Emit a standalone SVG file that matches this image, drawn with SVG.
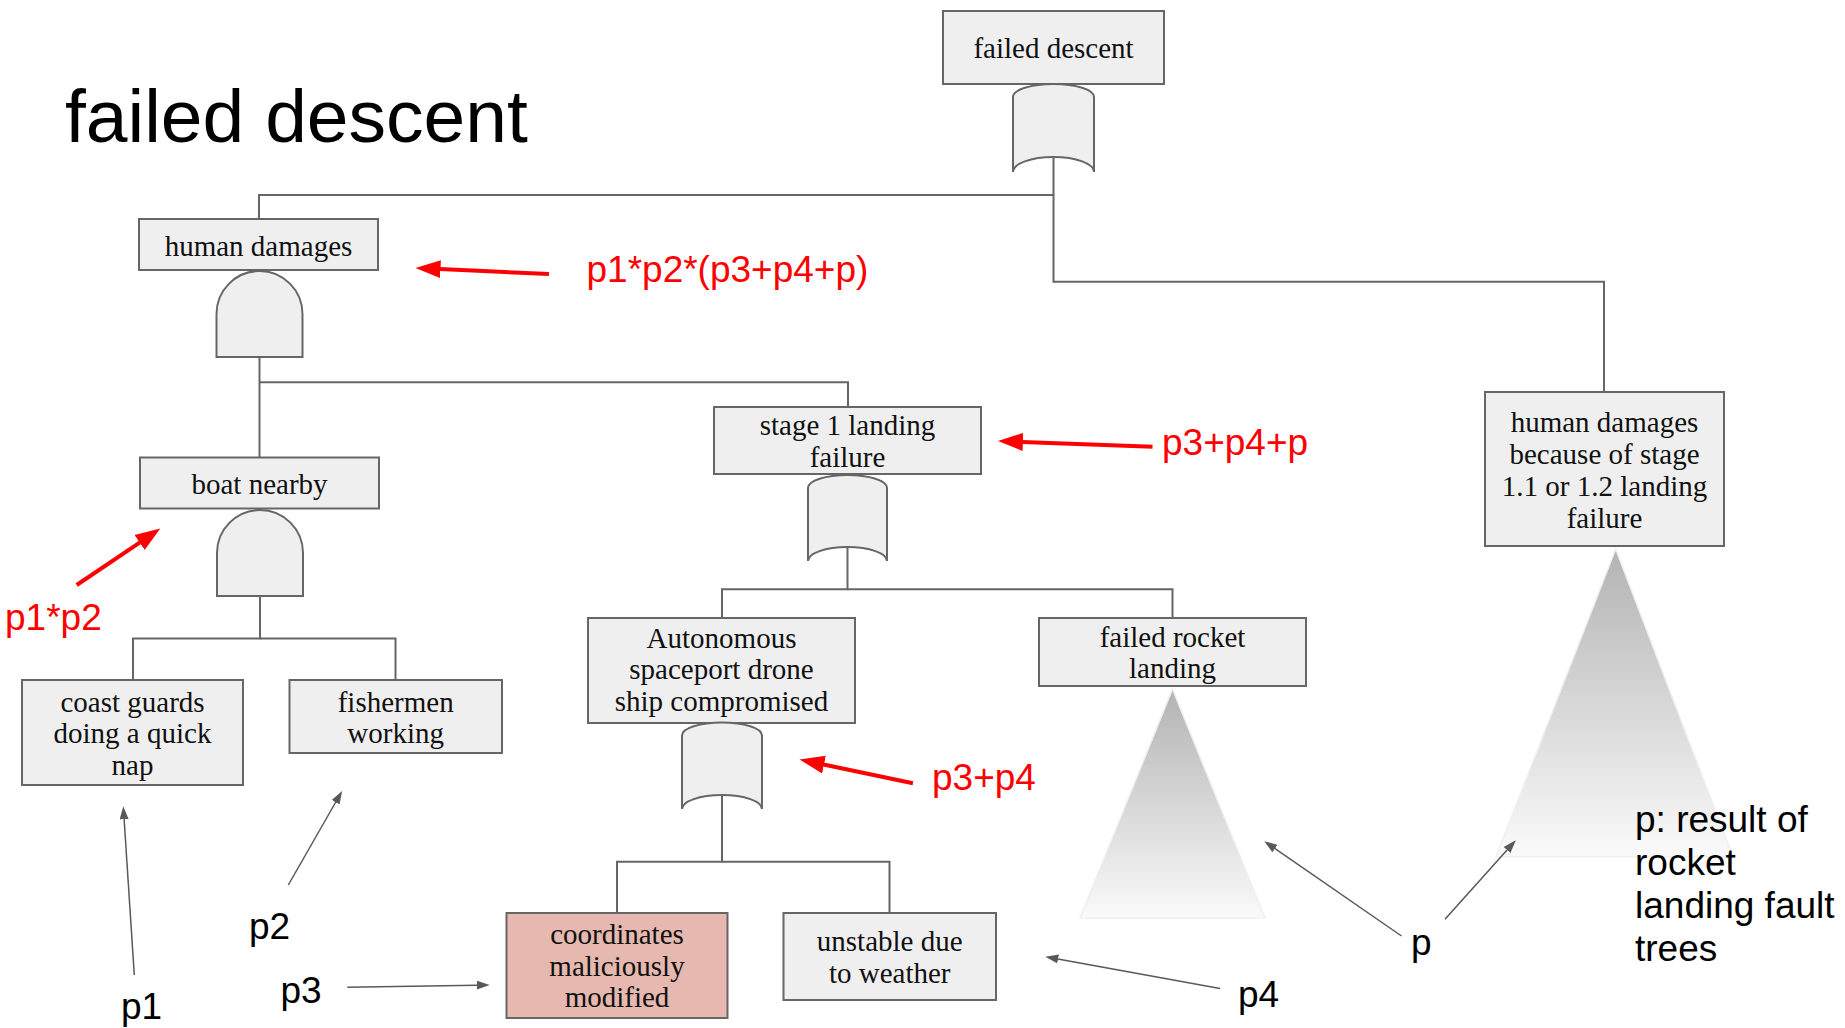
<svg xmlns="http://www.w3.org/2000/svg" width="1845" height="1028" viewBox="0 0 1845 1028">
<style>
.box{fill:#efefef;stroke:#666;stroke-width:2}
.hl{fill:#e6b8af}
.gate{fill:#efefef;stroke:#666;stroke-width:2}
.conn{fill:none;stroke:#666;stroke-width:2}
.lbl{font-family:"Liberation Serif","Times New Roman",serif;font-size:29px;fill:#111;text-anchor:middle}
.red{fill:none;stroke:#ff0000;stroke-width:4}
.redtxt{font-family:"Liberation Sans",Arial,sans-serif;font-size:37px;fill:#ff0000}
.ptxt{font-family:"Liberation Sans",Arial,sans-serif;font-size:37px;fill:#000}
.ptr{fill:none;stroke:#595959;stroke-width:1.5}
.tri{fill:url(#triGrad);stroke:#efefef;stroke-width:1.5}
</style>
<defs>
<linearGradient id="triGrad" x1="0" y1="0" x2="0" y2="1">
<stop offset="0" stop-color="#b3b3b3"/>
<stop offset="1" stop-color="#fafafa"/>
</linearGradient>
<marker id="redhead" markerUnits="userSpaceOnUse" markerWidth="25" markerHeight="20" viewBox="0 0 25 20" refX="0.5" refY="10" orient="auto">
<path d="M0,1 L25,10 L0,19 z" fill="#ff0000"/>
</marker>
<marker id="grayhead" markerUnits="userSpaceOnUse" markerWidth="13" markerHeight="9" viewBox="0 0 13 9" refX="0.3" refY="4.5" orient="auto">
<path d="M0,0 L13,4.5 L0,9 z" fill="#595959"/>
</marker>
</defs>
<rect width="1845" height="1028" fill="#ffffff"/>

<text x="65" y="142" style="font-family:'Liberation Sans',Arial,sans-serif;font-size:75px;fill:#000">failed descent</text>

<g id="connectors">
<path class="conn" d="M1053.5,157 V195 H259 V219"/>
<path class="conn" d="M1053.5,195 V281.7 H1604 V392"/>
<path class="conn" d="M259.5,357 V457.5"/>
<path class="conn" d="M259.5,382.3 H848 V407"/>
<path class="conn" d="M260,596 V638.5 H133 V680"/>
<path class="conn" d="M260,638.5 H395.5 V680"/>
<path class="conn" d="M847.5,547 V589.3 H722 V618"/>
<path class="conn" d="M847.5,589.3 H1172.5 V618"/>
<path class="conn" d="M722,795 V861.7 H617 V913"/>
<path class="conn" d="M722,861.7 H889.5 V913"/>
</g>

<g id="n-failed-descent">
<rect class="box" x="943" y="11" width="221" height="73"/>
<text class="lbl" x="1053.5" y="58">failed descent</text>
</g>
<g id="g-failed-descent-or">
<path class="gate" d="M1013,97 A40.5,13 0 0 1 1094,97 L1094,172 A40.5,15 0 0 0 1013,172 Z"/>
</g>

<g id="n-human-damages">
<rect class="box" x="139" y="219" width="239" height="51"/>
<text class="lbl" x="258.5" y="255.5">human damages</text>
</g>
<g id="g-human-damages-and">
<path class="gate" d="M216.5,357 V314 A43,43 0 0 1 302.5,314 V357 Z"/>
</g>

<g id="n-boat-nearby">
<rect class="box" x="140" y="457.5" width="239" height="51"/>
<text class="lbl" x="259.5" y="493.5">boat nearby</text>
</g>
<g id="g-boat-nearby-and">
<path class="gate" d="M217,596 V553 A43,43 0 0 1 303,553 V596 Z"/>
</g>

<g id="n-coast-guards">
<rect class="box" x="22" y="680" width="221" height="105"/>
<text class="lbl" x="132.5" y="711.5">coast guards</text>
<text class="lbl" x="132.5" y="743">doing a quick</text>
<text class="lbl" x="132.5" y="774.5">nap</text>
</g>

<g id="n-fishermen">
<rect class="box" x="289.5" y="680" width="212.5" height="73"/>
<text class="lbl" x="395.7" y="711.5">fishermen</text>
<text class="lbl" x="395.7" y="743">working</text>
</g>

<g id="n-stage1">
<rect class="box" x="714" y="407" width="267" height="67"/>
<text class="lbl" x="847.5" y="435">stage 1 landing</text>
<text class="lbl" x="847.5" y="466.5">failure</text>
</g>
<g id="g-stage1-or">
<path class="gate" d="M808,488 A39.5,13 0 0 1 887,488 L887,561 A39.5,14 0 0 0 808,561 Z"/>
</g>

<g id="n-autonomous">
<rect class="box" x="588" y="618" width="267" height="105"/>
<text class="lbl" x="721.5" y="647.5">Autonomous</text>
<text class="lbl" x="721.5" y="679">spaceport drone</text>
<text class="lbl" x="721.5" y="710.5">ship compromised</text>
</g>
<g id="g-autonomous-or">
<path class="gate" d="M682,735.5 A40,13 0 0 1 762,735.5 L762,809 A40,14 0 0 0 682,809 Z"/>
</g>

<g id="n-failed-rocket">
<rect class="box" x="1039" y="618" width="267" height="68"/>
<text class="lbl" x="1172.5" y="646.5">failed rocket</text>
<text class="lbl" x="1172.5" y="678">landing</text>
</g>
<g id="t-failed-rocket">
<polygon class="tri" points="1172.5,689 1265,918 1080,918"/>
</g>

<g id="n-coordinates">
<rect class="box hl" x="506.5" y="913" width="221" height="105"/>
<text class="lbl" x="617" y="943.5">coordinates</text>
<text class="lbl" x="617" y="975.5">maliciously</text>
<text class="lbl" x="617" y="1007">modified</text>
</g>

<g id="n-unstable">
<rect class="box" x="783.5" y="913" width="212.5" height="87"/>
<text class="lbl" x="889.7" y="951">unstable due</text>
<text class="lbl" x="889.7" y="982.5">to weather</text>
</g>

<g id="n-human-damages-stage">
<rect class="box" x="1485" y="392" width="239" height="154"/>
<text class="lbl" x="1604.5" y="432">human damages</text>
<text class="lbl" x="1604.5" y="464">because of stage</text>
<text class="lbl" x="1604.5" y="496">1.1 or 1.2 landing</text>
<text class="lbl" x="1604.5" y="527.5">failure</text>
</g>
<g id="t-human-damages-stage">
<polygon class="tri" points="1615.7,549 1733,856.7 1496,856.7"/>
</g>

<g id="annotations">
<path class="red" d="M549,274 L440,269.1" marker-end="url(#redhead)"/>
<text class="redtxt" x="586.5" y="282">p1*p2*(p3+p4+p)</text>
<path class="red" d="M1152.5,446.7 L1022.4,441.9" marker-end="url(#redhead)"/>
<text class="redtxt" x="1162" y="455">p3+p4+p</text>
<path class="red" d="M912.9,783.3 L823.5,764.5" marker-end="url(#redhead)"/>
<text class="redtxt" x="932" y="790">p3+p4</text>
<path class="red" d="M76.7,585 L140,542.3" marker-end="url(#redhead)"/>
<text class="redtxt" x="5" y="630">p1*p2</text>

<path class="ptr" d="M134.3,975 L124.1,819" marker-end="url(#grayhead)"/>
<text class="ptxt" x="121" y="1019">p1</text>
<path class="ptr" d="M288.3,885 L335.8,802" marker-end="url(#grayhead)"/>
<text class="ptxt" x="249" y="939">p2</text>
<path class="ptr" d="M347.3,987.3 L477,985.2" marker-end="url(#grayhead)"/>
<text class="ptxt" x="280.5" y="1003">p3</text>
<path class="ptr" d="M1220,988.4 L1057.8,958.9" marker-end="url(#grayhead)"/>
<text class="ptxt" x="1238" y="1007">p4</text>
<path class="ptr" d="M1401.5,936 L1274.7,848.4" marker-end="url(#grayhead)"/>
<path class="ptr" d="M1445,919.3 L1507.3,849.7" marker-end="url(#grayhead)"/>
<text class="ptxt" x="1411" y="955">p</text>
<text class="ptxt" x="1635" y="832">p: result of</text>
<text class="ptxt" x="1635" y="875">rocket</text>
<text class="ptxt" x="1635" y="918">landing fault</text>
<text class="ptxt" x="1635" y="961">trees</text>
</g>
</svg>
